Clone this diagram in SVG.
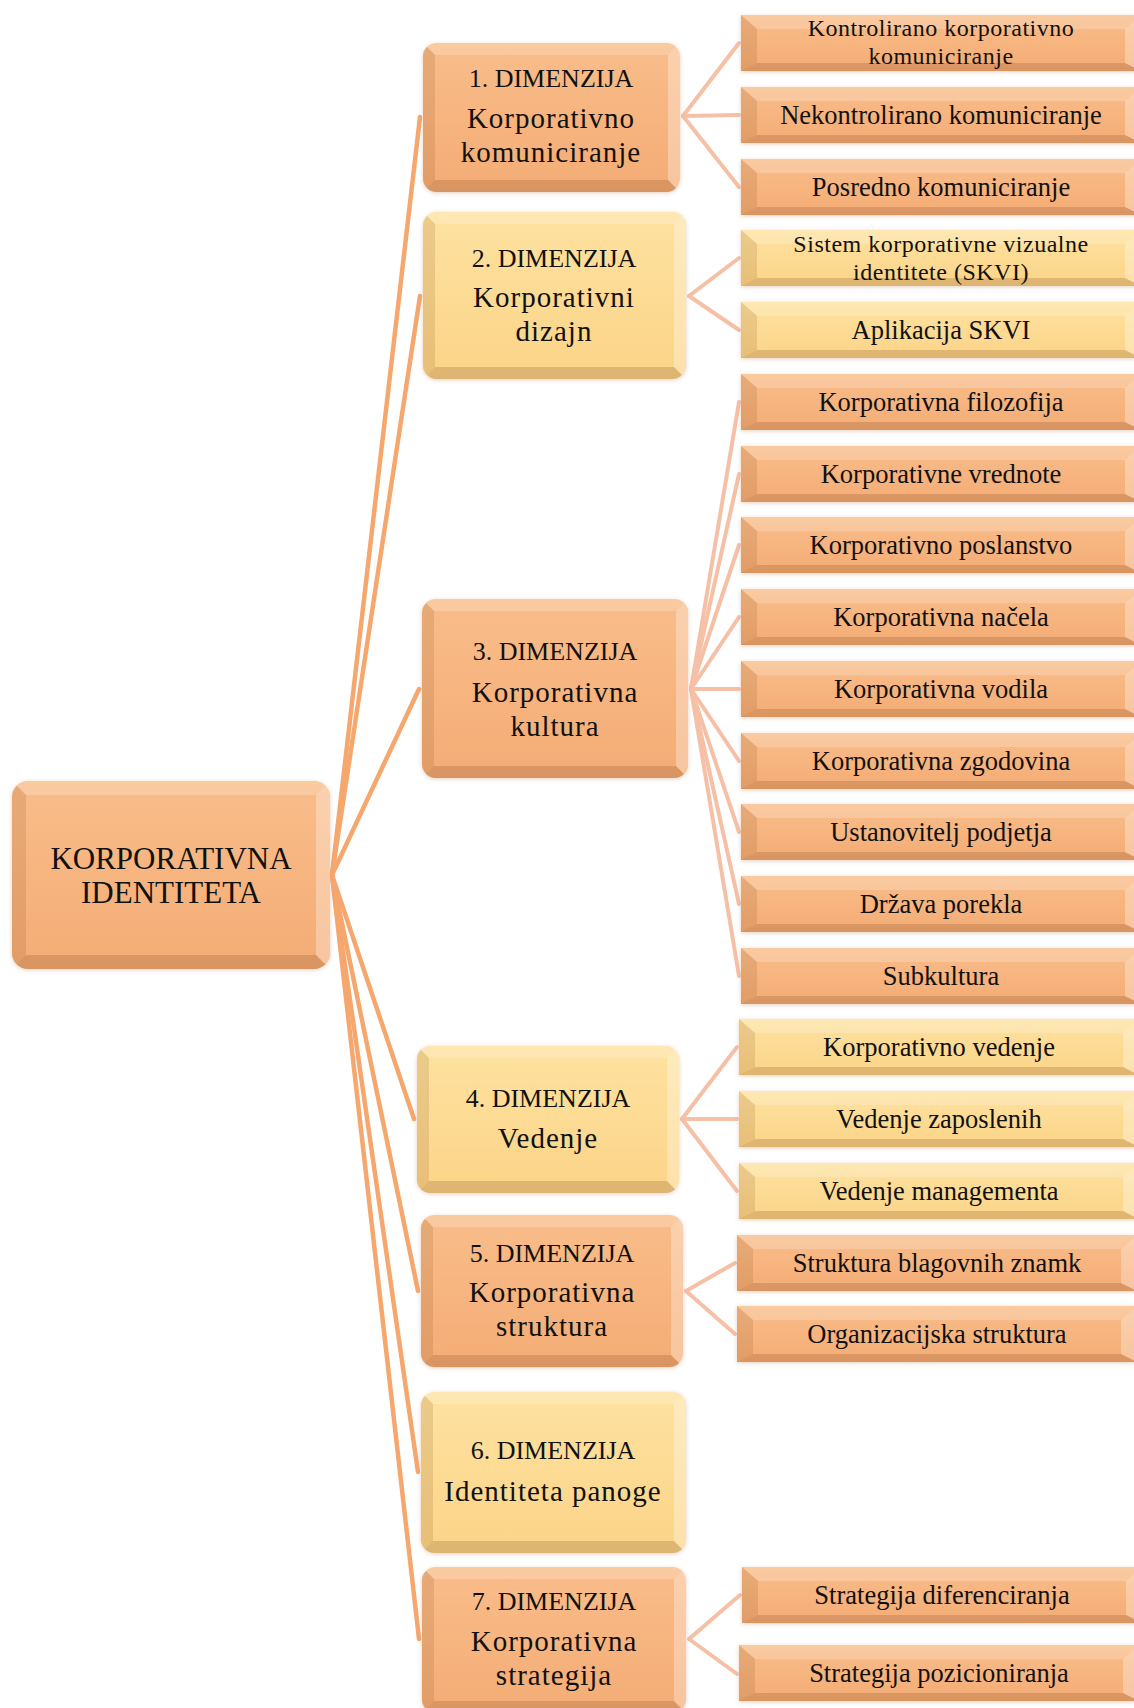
<svg xmlns="http://www.w3.org/2000/svg" width="1134" height="1708" viewBox="0 0 1134 1708">
<style>
.bg{fill:#ffffff}
.fo{fill:url(#gO)}
.fy{fill:url(#gY)}
.bt{fill:#ffffff;fill-opacity:.2}
.bl{fill:#7a3d10;fill-opacity:.14}
.bb{fill:#6e3c14;fill-opacity:.2}
.br{fill:#ffffff;fill-opacity:.3}
.lr{stroke:#F5A76D;stroke-width:4.5;fill:none;stroke-linecap:round}
.lc{stroke:#F6C0A6;stroke-width:4;fill:none;stroke-linecap:round}
text{font-family:"Liberation Serif","Times New Roman",serif;fill:#111;text-anchor:middle}
.t{font-size:26.5px}
.t2{font-size:24px;letter-spacing:0.5px}
.h{font-size:26px}
.m{font-size:29px;letter-spacing:1px}
.r{font-size:31px}
</style>
<defs>
<linearGradient id="gO" x1="0" y1="0" x2="0" y2="1">
<stop offset="0" stop-color="#F9BD8A"/><stop offset="1" stop-color="#F4AC75"/>
</linearGradient>
<linearGradient id="gY" x1="0" y1="0" x2="0" y2="1">
<stop offset="0" stop-color="#FEE2A0"/><stop offset="1" stop-color="#FBD488"/>
</linearGradient>
<filter id="sh" x="-10%" y="-20%" width="120%" height="140%" color-interpolation-filters="sRGB">
<feGaussianBlur in="SourceAlpha" stdDeviation="2.2" result="b"/>
<feOffset in="b" dy="1" result="o"/>
<feFlood flood-color="#C9A07E" flood-opacity="0.5"/>
<feComposite in2="o" operator="in" result="s"/>
<feMerge><feMergeNode in="s"/><feMergeNode in="SourceGraphic"/></feMerge>
</filter>
<clipPath id="rc" clipPathUnits="objectBoundingBox"><rect width="1" height="1" rx="0.05" ry="0.085"/></clipPath>
<g id="co">
<rect class="fo" width="400" height="56" filter="url(#sh)"/>
<polygon class="bt" points="0,0 400,0 384,14 16,14"/>
<polygon class="bl" points="0,0 16,14 16,48 0,56"/>
<polygon class="bb" points="0,56 16,48 384,48 400,56"/>
<polygon class="br" points="400,0 400,56 384,48 384,14"/>
</g>
<g id="cy">
<rect class="fy" width="400" height="56" filter="url(#sh)"/>
<polygon class="bt" points="0,0 400,0 384,14 16,14"/>
<polygon class="bl" points="0,0 16,14 16,48 0,56"/>
<polygon class="bb" points="0,56 16,48 384,48 400,56"/>
<polygon class="br" points="400,0 400,56 384,48 384,14"/>
</g>
</defs>
<rect class="bg" width="1134" height="1708"/>

<g id="connectors">
<line class="lr" x1="332" y1="875" x2="420" y2="117"/>
<line class="lr" x1="332" y1="875" x2="420" y2="296"/>
<line class="lr" x1="332" y1="875" x2="419" y2="689"/>
<line class="lr" x1="332" y1="875" x2="414" y2="1119"/>
<line class="lr" x1="332" y1="875" x2="418" y2="1291"/>
<line class="lr" x1="332" y1="875" x2="418" y2="1472"/>
<line class="lr" x1="332" y1="875" x2="419" y2="1639"/>
<line class="lc" x1="683" y1="116" x2="739" y2="43"/>
<line class="lc" x1="683" y1="116" x2="739" y2="115"/>
<line class="lc" x1="683" y1="116" x2="739" y2="187"/>
<line class="lc" x1="689" y1="296" x2="739" y2="258"/>
<line class="lc" x1="689" y1="296" x2="739" y2="330"/>
<line class="lc" x1="691" y1="689" x2="739" y2="402"/>
<line class="lc" x1="691" y1="689" x2="739" y2="474"/>
<line class="lc" x1="691" y1="689" x2="739" y2="545"/>
<line class="lc" x1="691" y1="689" x2="739" y2="617"/>
<line class="lc" x1="691" y1="689" x2="739" y2="689"/>
<line class="lc" x1="691" y1="689" x2="739" y2="761"/>
<line class="lc" x1="691" y1="689" x2="739" y2="832"/>
<line class="lc" x1="691" y1="689" x2="739" y2="904"/>
<line class="lc" x1="691" y1="689" x2="739" y2="976"/>
<line class="lc" x1="682" y1="1119" x2="737" y2="1047"/>
<line class="lc" x1="682" y1="1119" x2="737" y2="1119"/>
<line class="lc" x1="682" y1="1119" x2="737" y2="1191"/>
<line class="lc" x1="686" y1="1291" x2="735" y2="1263"/>
<line class="lc" x1="686" y1="1291" x2="735" y2="1334"/>
<line class="lc" x1="689" y1="1639" x2="740" y2="1595"/>
<line class="lc" x1="689" y1="1639" x2="737" y2="1674"/>
</g>

<g id="root">
<rect class="fo" x="12" y="781" width="318" height="188" rx="16" filter="url(#sh)"/>
<g clip-path="url(#rc)">
<polygon class="bt" points="12,781 330,781 316,795 26,795"/>
<polygon class="bl" points="12,781 26,795 26,955 12,969"/>
<polygon class="bb" points="12,969 26,955 316,955 330,969"/>
<polygon class="br" points="330,781 330,969 316,955 316,795"/>
</g>
<text class="r" x="171" y="869">KORPORATIVNA</text>
<text class="r" x="171" y="903">IDENTITETA</text>
</g>

<g id="dim1">
<rect class="fo" x="423" y="43" width="257" height="149" rx="14" filter="url(#sh)"/>
<g clip-path="url(#rc)">
<polygon class="bt" points="423,43 680,43 668,55 435,55"/>
<polygon class="bl" points="423,43 435,55 435,180 423,192"/>
<polygon class="bb" points="423,192 435,180 668,180 680,192"/>
<polygon class="br" points="680,43 680,192 668,180 668,55"/>
</g>
<text class="h" x="551" y="87">1. DIMENZIJA</text>
<text class="m" x="551" y="128">Korporativno</text>
<text class="m" x="551" y="162">komuniciranje</text>
</g>

<g id="dim2">
<rect class="fy" x="423" y="212" width="263" height="167" rx="14" filter="url(#sh)"/>
<g clip-path="url(#rc)">
<polygon class="bt" points="423,212 686,212 674,224 435,224"/>
<polygon class="bl" points="423,212 435,224 435,367 423,379"/>
<polygon class="bb" points="423,379 435,367 674,367 686,379"/>
<polygon class="br" points="686,212 686,379 674,367 674,224"/>
</g>
<text class="h" x="554" y="267">2. DIMENZIJA</text>
<text class="m" x="554" y="307">Korporativni</text>
<text class="m" x="554" y="341">dizajn</text>
</g>

<g id="dim3">
<rect class="fo" x="422" y="599" width="266" height="179" rx="14" filter="url(#sh)"/>
<g clip-path="url(#rc)">
<polygon class="bt" points="422,599 688,599 676,611 434,611"/>
<polygon class="bl" points="422,599 434,611 434,766 422,778"/>
<polygon class="bb" points="422,778 434,766 676,766 688,778"/>
<polygon class="br" points="688,599 688,778 676,766 676,611"/>
</g>
<text class="h" x="555" y="660">3. DIMENZIJA</text>
<text class="m" x="555" y="702">Korporativna</text>
<text class="m" x="555" y="736">kultura</text>
</g>

<g id="dim4">
<rect class="fy" x="417" y="1046" width="262" height="147" rx="14" filter="url(#sh)"/>
<g clip-path="url(#rc)">
<polygon class="bt" points="417,1046 679,1046 667,1058 429,1058"/>
<polygon class="bl" points="417,1046 429,1058 429,1181 417,1193"/>
<polygon class="bb" points="417,1193 429,1181 667,1181 679,1193"/>
<polygon class="br" points="679,1046 679,1193 667,1181 667,1058"/>
</g>
<text class="h" x="548" y="1107">4. DIMENZIJA</text>
<text class="m" x="548" y="1148">Vedenje</text>
</g>

<g id="dim5">
<rect class="fo" x="421" y="1215" width="262" height="152" rx="14" filter="url(#sh)"/>
<g clip-path="url(#rc)">
<polygon class="bt" points="421,1215 683,1215 671,1227 433,1227"/>
<polygon class="bl" points="421,1215 433,1227 433,1355 421,1367"/>
<polygon class="bb" points="421,1367 433,1355 671,1355 683,1367"/>
<polygon class="br" points="683,1215 683,1367 671,1355 671,1227"/>
</g>
<text class="h" x="552" y="1262">5. DIMENZIJA</text>
<text class="m" x="552" y="1302">Korporativna</text>
<text class="m" x="552" y="1336">struktura</text>
</g>

<g id="dim6">
<rect class="fy" x="421" y="1392" width="265" height="161" rx="14" filter="url(#sh)"/>
<g clip-path="url(#rc)">
<polygon class="bt" points="421,1392 686,1392 674,1404 433,1404"/>
<polygon class="bl" points="421,1392 433,1404 433,1541 421,1553"/>
<polygon class="bb" points="421,1553 433,1541 674,1541 686,1553"/>
<polygon class="br" points="686,1392 686,1553 674,1541 674,1404"/>
</g>
<text class="h" x="553" y="1459">6. DIMENZIJA</text>
<text class="m" x="553" y="1501">Identiteta panoge</text>
</g>

<g id="dim7">
<rect class="fo" x="422" y="1567" width="264" height="146" rx="14" filter="url(#sh)"/>
<g clip-path="url(#rc)">
<polygon class="bt" points="422,1567 686,1567 674,1579 434,1579"/>
<polygon class="bl" points="422,1567 434,1579 434,1701 422,1713"/>
<polygon class="bb" points="422,1713 434,1701 674,1701 686,1713"/>
<polygon class="br" points="686,1567 686,1713 674,1701 674,1579"/>
</g>
<text class="h" x="554" y="1610">7. DIMENZIJA</text>
<text class="m" x="554" y="1651">Korporativna</text>
<text class="m" x="554" y="1685">strategija</text>
</g>

<g id="c1"><use href="#co" x="741" y="15"/><text class="t2" x="941" y="36">Kontrolirano korporativno</text><text class="t2" x="941" y="64">komuniciranje</text></g>
<g id="c2"><use href="#co" x="741" y="87"/><text class="t" x="941" y="124">Nekontrolirano komuniciranje</text></g>
<g id="c3"><use href="#co" x="741" y="159"/><text class="t" x="941" y="196">Posredno komuniciranje</text></g>
<g id="c4"><use href="#cy" x="741" y="230"/><text class="t2" x="941" y="252">Sistem korporativne vizualne</text><text class="t2" x="941" y="280">identitete (SKVI)</text></g>
<g id="c5"><use href="#cy" x="741" y="302"/><text class="t" x="941" y="339">Aplikacija SKVI</text></g>
<g id="c6"><use href="#co" x="741" y="374"/><text class="t" x="941" y="411">Korporativna filozofija</text></g>
<g id="c7"><use href="#co" x="741" y="446"/><text class="t" x="941" y="483">Korporativne vrednote</text></g>
<g id="c8"><use href="#co" x="741" y="517"/><text class="t" x="941" y="554">Korporativno poslanstvo</text></g>
<g id="c9"><use href="#co" x="741" y="589"/><text class="t" x="941" y="626">Korporativna načela</text></g>
<g id="c10"><use href="#co" x="741" y="661"/><text class="t" x="941" y="698">Korporativna vodila</text></g>
<g id="c11"><use href="#co" x="741" y="733"/><text class="t" x="941" y="770">Korporativna zgodovina</text></g>
<g id="c12"><use href="#co" x="741" y="804"/><text class="t" x="941" y="841">Ustanovitelj podjetja</text></g>
<g id="c13"><use href="#co" x="741" y="876"/><text class="t" x="941" y="913">Država porekla</text></g>
<g id="c14"><use href="#co" x="741" y="948"/><text class="t" x="941" y="985">Subkultura</text></g>
<g id="c15"><use href="#cy" x="739" y="1019"/><text class="t" x="939" y="1056">Korporativno vedenje</text></g>
<g id="c16"><use href="#cy" x="739" y="1091"/><text class="t" x="939" y="1128">Vedenje zaposlenih</text></g>
<g id="c17"><use href="#cy" x="739" y="1163"/><text class="t" x="939" y="1200">Vedenje managementa</text></g>
<g id="c18"><use href="#co" x="737" y="1235"/><text class="t" x="937" y="1272">Struktura blagovnih znamk</text></g>
<g id="c19"><use href="#co" x="737" y="1306"/><text class="t" x="937" y="1343">Organizacijska struktura</text></g>
<g id="c20"><use href="#co" x="742" y="1567"/><text class="t" x="942" y="1604">Strategija diferenciranja</text></g>
<g id="c21"><use href="#co" x="739" y="1645"/><text class="t" x="939" y="1682">Strategija pozicioniranja</text></g>
</svg>
